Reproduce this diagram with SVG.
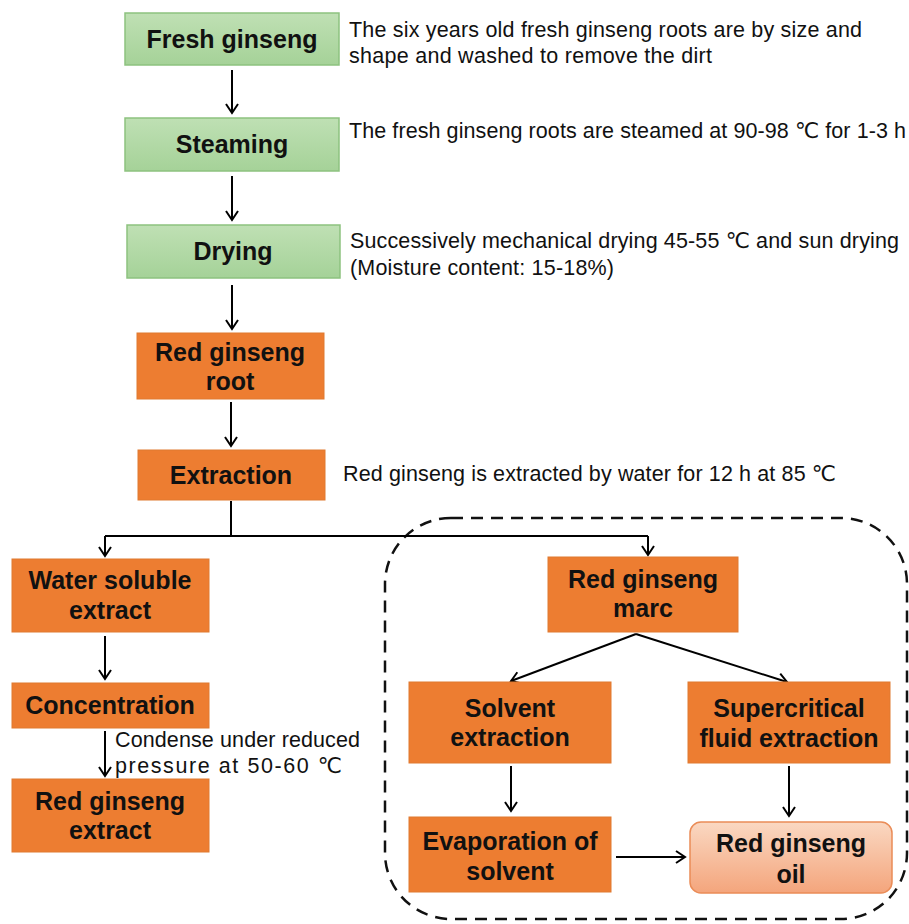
<svg xmlns="http://www.w3.org/2000/svg" width="909" height="924" viewBox="0 0 909 924">
<defs>
<linearGradient id="gGreen" x1="0" y1="0" x2="0" y2="1">
<stop offset="0" stop-color="#bfe0b4"/>
<stop offset="1" stop-color="#a5d298"/>
</linearGradient>
<linearGradient id="gOil" x1="0" y1="0" x2="0" y2="1">
<stop offset="0" stop-color="#fad8c2"/>
<stop offset="1" stop-color="#f4a57c"/>
</linearGradient>
<marker id="arr" markerWidth="14" markerHeight="14" viewBox="0 0 14 14" refX="12" refY="7" orient="auto" markerUnits="userSpaceOnUse">
<polyline points="3,1 12,7 3,13" fill="none" stroke="#000" stroke-width="2"/>
</marker>
<style>
.green{fill:url(#gGreen);stroke:#8dc27f;stroke-width:1.5}
.orange{fill:#ed7d31;stroke:#e07a30;stroke-width:1}
.oil{fill:url(#gOil);stroke:#ea8c57;stroke-width:1.5}
.lbl{font-family:"Liberation Sans",Arial,sans-serif;font-weight:bold;font-size:25px;fill:#111;text-anchor:middle}
.note{font-family:"Liberation Sans",Arial,"DejaVu Sans",sans-serif;font-size:21.5px;fill:#111}
.con{fill:none;stroke:#000;stroke-width:2}
.arrow{fill:none;stroke:#000;stroke-width:2;marker-end:url(#arr)}
.dash{fill:none;stroke:#111;stroke-width:2.5;stroke-dasharray:12 8}
</style>
</defs>
<rect width="909" height="924" fill="#fff"/>

<g id="group-boundary">
<rect class="dash" x="385" y="518" width="522" height="401" rx="66" ry="66"/>
</g>

<g id="connectors">
<line class="arrow" x1="232" y1="70" x2="232" y2="113"/>
<line class="arrow" x1="232" y1="176" x2="232" y2="220"/>
<line class="arrow" x1="232" y1="285" x2="232" y2="329"/>
<line class="arrow" x1="231" y1="402" x2="231" y2="446"/>
<polyline class="con" points="231,501 231,536"/>
<polyline class="con" points="105,536 648,536"/>
<line class="arrow" x1="105" y1="536" x2="105" y2="556"/>
<line class="arrow" x1="648" y1="536" x2="648" y2="555"/>
<line class="arrow" x1="105" y1="636" x2="105" y2="679"/>
<line class="arrow" x1="105" y1="731" x2="105" y2="776"/>
<line class="arrow" x1="636" y1="634" x2="511" y2="681"/>
<line class="arrow" x1="636" y1="634" x2="787" y2="682"/>
<line class="arrow" x1="511" y1="766" x2="511" y2="811"/>
<line class="arrow" x1="789" y1="766" x2="789" y2="816"/>
<line class="arrow" x1="616" y1="857" x2="685" y2="857"/>
</g>

<g id="node-fresh-ginseng">
<rect class="green" x="125" y="13" width="214" height="52"/>
<text class="lbl" x="232" y="48">Fresh ginseng</text>
</g>
<g id="node-steaming">
<rect class="green" x="125" y="118" width="214" height="53"/>
<text class="lbl" x="232" y="153">Steaming</text>
</g>
<g id="node-drying">
<rect class="green" x="127" y="225" width="213" height="53"/>
<text class="lbl" x="233" y="260">Drying</text>
</g>
<g id="node-red-ginseng-root">
<rect class="orange" x="137" y="333" width="187" height="66"/>
<text class="lbl" x="230" y="361">Red ginseng</text>
<text class="lbl" x="230" y="390">root</text>
</g>
<g id="node-extraction">
<rect class="orange" x="138" y="450" width="187" height="50"/>
<text class="lbl" x="231" y="484">Extraction</text>
</g>
<g id="node-water-soluble-extract">
<rect class="orange" x="12" y="559" width="197" height="73"/>
<text class="lbl" x="110" y="589">Water soluble</text>
<text class="lbl" x="110" y="619">extract</text>
</g>
<g id="node-concentration">
<rect class="orange" x="12" y="683" width="197" height="45"/>
<text class="lbl" x="110" y="714">Concentration</text>
</g>
<g id="node-red-ginseng-extract">
<rect class="orange" x="12" y="779" width="197" height="73"/>
<text class="lbl" x="110" y="810">Red ginseng</text>
<text class="lbl" x="110" y="839">extract</text>
</g>
<g id="node-red-ginseng-marc">
<rect class="orange" x="548" y="557" width="190" height="75"/>
<text class="lbl" x="643" y="588">Red ginseng</text>
<text class="lbl" x="643" y="617">marc</text>
</g>
<g id="node-solvent-extraction">
<rect class="orange" x="409" y="682" width="202" height="81"/>
<text class="lbl" x="510" y="717">Solvent</text>
<text class="lbl" x="510" y="746">extraction</text>
</g>
<g id="node-supercritical">
<rect class="orange" x="688" y="682" width="202" height="81"/>
<text class="lbl" x="789" y="717">Supercritical</text>
<text class="lbl" x="789" y="747">fluid extraction</text>
</g>
<g id="node-evaporation">
<rect class="orange" x="409" y="817" width="202" height="75"/>
<text class="lbl" x="510" y="850">Evaporation of</text>
<text class="lbl" x="510" y="880">solvent</text>
</g>
<g id="node-red-ginseng-oil">
<rect class="oil" x="690" y="822" width="202" height="71" rx="11" ry="11"/>
<text class="lbl" x="791" y="852">Red ginseng</text>
<text class="lbl" x="791" y="883">oil</text>
</g>

<g id="notes">
<text class="note" x="349" y="37" textLength="513" lengthAdjust="spacing">The six years old fresh ginseng roots are by size and</text>
<text class="note" x="349" y="63" textLength="363" lengthAdjust="spacing">shape and washed to remove the dirt</text>
<text class="note" x="349" y="138" textLength="557" lengthAdjust="spacing">The fresh ginseng roots are steamed at 90-98 ℃ for 1-3 h</text>
<text class="note" x="350" y="248" textLength="549" lengthAdjust="spacing">Successively mechanical drying 45-55 ℃ and sun drying</text>
<text class="note" x="350" y="275" textLength="264" lengthAdjust="spacing">(Moisture content: 15-18%)</text>
<text class="note" x="343" y="481" textLength="493" lengthAdjust="spacing">Red ginseng is extracted by water for 12 h at 85 ℃</text>
<text class="note" x="115" y="747" textLength="245" lengthAdjust="spacing">Condense under reduced</text>
<text class="note" x="115" y="773" textLength="227" lengthAdjust="spacing">pressure at 50-60 ℃</text>
</g>
</svg>
